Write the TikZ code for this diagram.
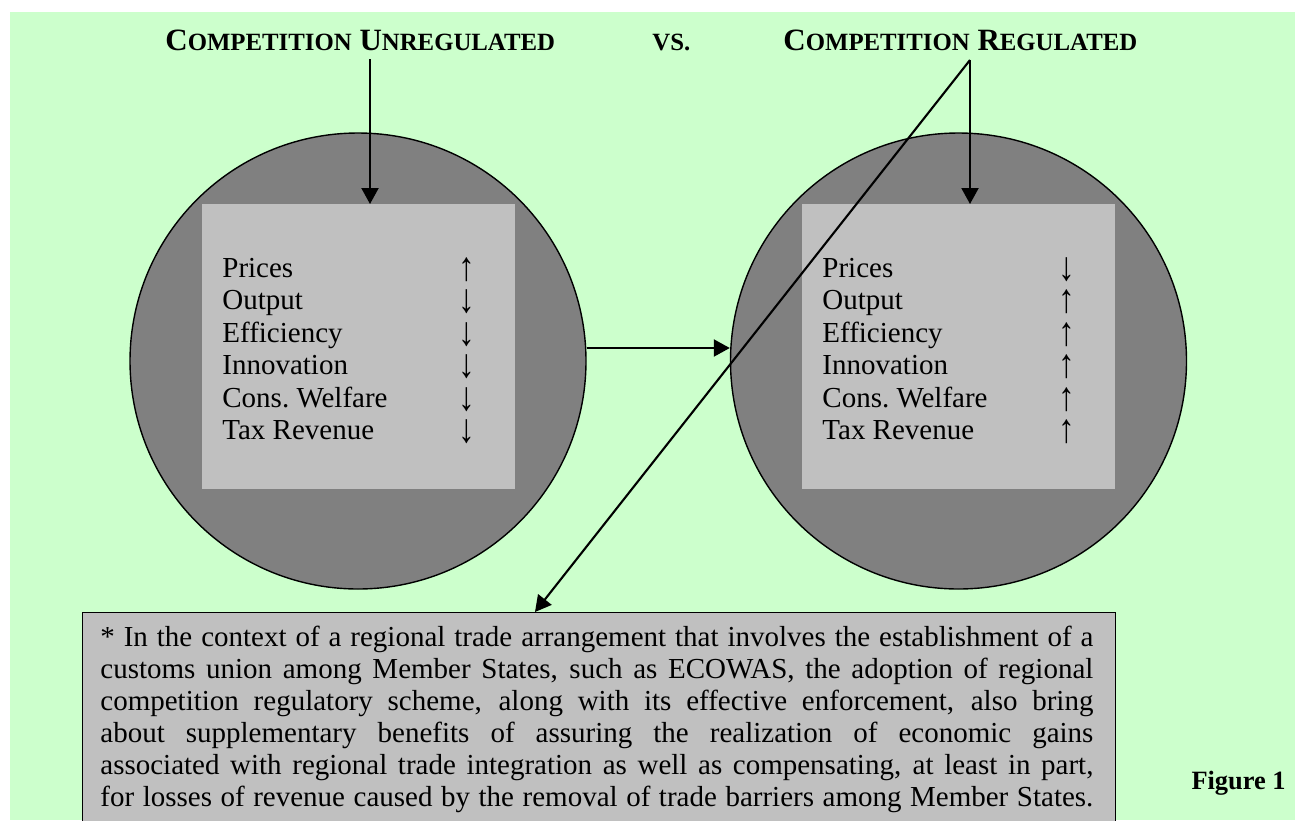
\documentclass[tikz,border=0pt]{standalone}
\usepackage{fontspec}
\usepackage{graphicx}
\setmainfont{Liberation Serif}
\usetikzlibrary{arrows.meta}
\definecolor{bggreen}{HTML}{CCFFCC}
\definecolor{circgray}{HTML}{808080}
\definecolor{rectgray}{HTML}{C0C0C0}
\newcommand\smcp[1]{{\fontsize{12.4}{13}\selectfont #1}}
\newcommand\trendarrow[1]{\raisebox{-1.5pt}{\scalebox{1.15}[1.4]{#1}}}
\begin{document}
\begin{tikzpicture}[x=0.5pt,y=-0.5pt,
  title/.style={font=\fontsize{15.5}{16}\selectfont\bfseries, inner sep=0, anchor=base west},
  disc/.style={circle, draw=black, line width=0.7pt, fill=circgray, minimum size=228pt, inner sep=0},
  panel/.style={fill=rectgray, anchor=north west, minimum width=156.5pt, minimum height=142.5pt, inner sep=0},
  item/.style={font=\fontsize{14.5}{16}\selectfont, inner sep=0, anchor=base west},
  trend/.style={font=\fontsize{14.5}{16}\selectfont, inner sep=0, anchor=base, text height=9.5pt, text depth=2pt},
  conn/.style={line width=1.05pt, -{Triangle[length=8pt,width=8.5pt]}},
  note/.style={fill=rectgray, draw=black, line width=0.5pt, anchor=north west, minimum width=516.5pt, minimum height=110pt, inner sep=0},
]
\useasboundingbox (0,0) rectangle (1295,820);
\fill[white] (0,0) rectangle (1295,820);
\fill[bggreen] (10,12) rectangle (1295,820);

% titles
\node[title] (tunreg) at (165,50) {C\smcp{OMPETITION} U\smcp{NREGULATED}};
\node[title] (tvs) at (652,50) {\smcp{VS.}};
\node[title] (treg) at (783,50) {C\smcp{OMPETITION} R\smcp{EGULATED}};

% circles
\node[disc] (lc) at (358,361) {};
\node[disc] (rc) at (958.5,361) {};

% panels
\node[panel] (lpanel) at (202,204) {};
\node[panel] (rpanel) at (802,204) {};

% lists
\foreach \t/\a [count=\i] in {Prices/↑, Output/↓, Efficiency/↓, Innovation/↓, Cons.\ Welfare/↓, Tax Revenue/↓}{
  \node[item] (litem\i) at (222,{277+32.5*(\i-1)}) {\t};
  \node[trend] (ltrend\i) at (467,{277+32.5*(\i-1)}) {\trendarrow{\a}};
}
\foreach \t/\a [count=\i] in {Prices/↓, Output/↑, Efficiency/↑, Innovation/↑, Cons.\ Welfare/↑, Tax Revenue/↑}{
  \node[item] (ritem\i) at (822,{277+32.5*(\i-1)}) {\t};
  \node[trend] (rtrend\i) at (1067,{277+32.5*(\i-1)}) {\trendarrow{\a}};
}

% note box
\node[note] (note) at (82,612) {};
\node[anchor=north west, inner sep=0, text width=496.5pt, align=justify,
      font=\fontsize{14.5}{16}\selectfont] (notetext) at (100,626)
{\noindent\parfillskip=0pt
* In the context of a regional trade arrangement that involves the establishment of a\linebreak
customs union among Member States, such as ECOWAS, the adoption of regional\linebreak
competition regulatory scheme, along with its effective enforcement, also bring\linebreak
about supplementary benefits of assuring the realization of economic gains\linebreak
associated with regional trade integration as well as compensating, at least in part,\linebreak
for losses of revenue caused by the removal of trade barriers among Member States.\par};

% figure label
\node[font=\fontsize{13.2}{16}\selectfont\bfseries, inner sep=0, anchor=base east] (figlabel) at (1286,789) {Figure 1};

% connectors
\coordinate (apexL) at (370,59);
\coordinate (apexR) at (970,60);
\coordinate (notetip) at (535,612);
\coordinate (hy) at (0,348);
\draw[conn] (apexL) -- (apexL |- lpanel.north);
\draw[conn] (apexR) -- (apexR |- rpanel.north);
\draw[conn] (apexR) -- (notetip);
\draw[conn] (lc.east |- hy) -- (rc.west |- hy);
\end{tikzpicture}
\end{document}
